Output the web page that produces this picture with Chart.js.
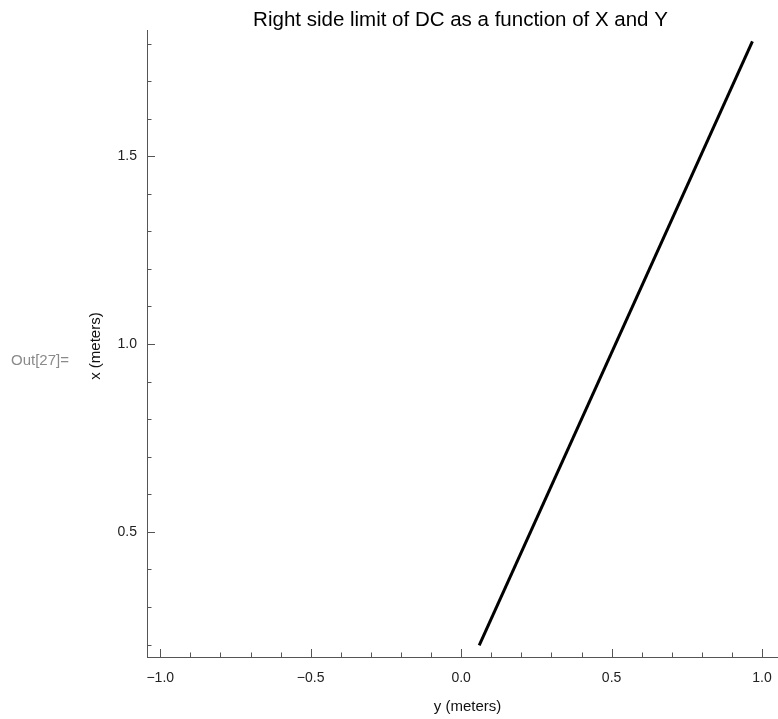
<!DOCTYPE html>
<html>
<head>
<meta charset="utf-8">
<script src="https://cdn.jsdelivr.net/npm/chart.js@4"></script>
<style>
html,body{margin:0;padding:0;background:#fff;}
#wrap{position:relative;width:778px;height:719px;}
</style>
</head>
<body>
<div id="wrap"><canvas id="c" width="778" height="719"></canvas></div>
<script>
// ---- data ----
const yMetersValues = [0.06, 0.968];   // horizontal axis: y (meters)
const xMetersValues = [0.198, 1.806];  // vertical axis: x (meters)
const xAxisMajorTicks = [-1.0, -0.5, 0.0, 0.5, 1.0];
const xAxisMinorTicks = [-0.9, -0.8, -0.7, -0.6, -0.4, -0.3, -0.2, -0.1, 0.1, 0.2, 0.3, 0.4, 0.6, 0.7, 0.8, 0.9];
const yAxisMajorTicks = [0.5, 1.0, 1.5];
const yAxisMinorTicks = [0.2, 0.3, 0.4, 0.6, 0.7, 0.8, 0.9, 1.1, 1.2, 1.3, 1.4, 1.6, 1.7, 1.8];
const xRange = [-1.044, 1.053];
const yRange = [0.167, 1.836];
const titleText = 'Right side limit of DC as a function of X and Y';
const xTitle = 'y (meters)';
const yTitle = 'x (meters)';
const outLabel = 'Out[27]=';

const points = yMetersValues.map((v, i) => ({x: v, y: xMetersValues[i]}));
const fmt = v => (v < 0 ? '\u2212' : '') + Math.abs(v).toFixed(1);
const FONT = "'Liberation Sans', Arial, sans-serif";
const AXIS_COLOR = '#555';

const innerTicks = {
  id: 'innerTicks',
  afterDraw(chart) {
    const ctx = chart.ctx;
    const xs = chart.scales.x, ys = chart.scales.y;
    const area = chart.chartArea;
    ctx.save();
    ctx.strokeStyle = AXIS_COLOR;
    ctx.lineWidth = 1;
    const drawX = (vals, len) => vals.forEach(v => {
      const px = Math.round(xs.getPixelForValue(v)) + 0.5;
      ctx.beginPath(); ctx.moveTo(px, area.bottom); ctx.lineTo(px, area.bottom - len); ctx.stroke();
    });
    const drawY = (vals, len) => vals.forEach(v => {
      const py = Math.round(ys.getPixelForValue(v)) + 0.5;
      ctx.beginPath(); ctx.moveTo(area.left, py); ctx.lineTo(area.left + len, py); ctx.stroke();
    });
    drawX(xAxisMajorTicks, 8); drawX(xAxisMinorTicks, 4.5);
    drawY(yAxisMajorTicks, 8); drawY(yAxisMinorTicks, 4.5);

    // title
    ctx.fillStyle = '#000';
    ctx.font = '20.5px ' + FONT;
    ctx.textAlign = 'center';
    ctx.textBaseline = 'alphabetic';
    ctx.fillText(titleText, (area.left + area.right) / 2 - 2, 26);
    // axis titles
    ctx.fillStyle = '#111';
    ctx.font = '15px ' + FONT;
    ctx.textBaseline = 'middle';
    ctx.fillText(xTitle, (area.left + area.right) / 2 + 5, 707);
    ctx.save();
    ctx.translate(96, ys.getPixelForValue(1.0) + 2);
    ctx.rotate(-Math.PI / 2);
    ctx.fillText(yTitle, 0, 0);
    ctx.restore();
    // Out label
    ctx.fillStyle = '#8a8a8a';
    ctx.font = '15px ' + FONT;
    ctx.textAlign = 'left';
    ctx.fillText(outLabel, 11, ys.getPixelForValue(1.0) + 17);
    ctx.restore();
  }
};

new Chart(document.getElementById('c'), {
  type: 'scatter',
  data: {
    datasets: [{
      data: points,
      showLine: true,
      borderColor: '#000',
      borderWidth: 3,
      pointRadius: 0,
      fill: false
    }]
  },
  options: {
    responsive: false,
    animation: false,
    layout: {padding: {top: 30, right: 0, left: 0, bottom: 0}},
    plugins: {legend: {display: false}, tooltip: {enabled: false}},
    scales: {
      x: {
        type: 'linear', min: xRange[0], max: xRange[1],
        afterBuildTicks: s => { s.ticks = xAxisMajorTicks.map(v => ({value: v})); },
        afterFit: s => { s.height = 62; s.paddingRight = 0; s.paddingLeft = 0; },
        grid: {display: false, drawTicks: false},
        border: {display: true, color: AXIS_COLOR, width: 1},
        ticks: {callback: v => fmt(v), color: '#222', font: {family: FONT, size: 14}, padding: 13, maxRotation: 0, autoSkip: false},
        title: {display: false}
      },
      y: {
        type: 'linear', min: yRange[0], max: yRange[1],
        afterBuildTicks: s => { s.ticks = yAxisMajorTicks.map(v => ({value: v})); },
        afterFit: s => { s.width = 147; s.paddingTop = 0; s.paddingBottom = 0; },
        grid: {display: false, drawTicks: false},
        border: {display: true, color: AXIS_COLOR, width: 1},
        ticks: {callback: v => fmt(v), color: '#222', font: {family: FONT, size: 14}, padding: 10, autoSkip: false},
        title: {display: false}
      }
    }
  },
  plugins: [innerTicks]
});
</script>
</body>
</html>
